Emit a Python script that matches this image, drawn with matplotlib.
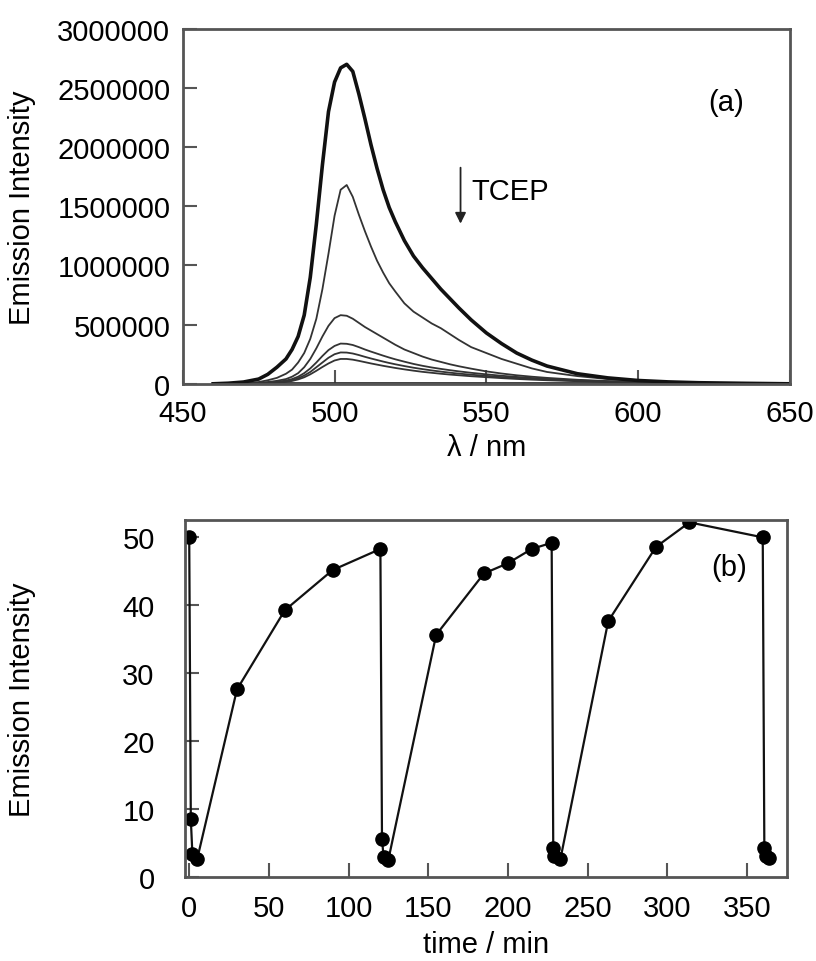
import numpy as np
import matplotlib.pyplot as plt
from matplotlib.ticker import FormatStrFormatter

plt.rcParams['font.family'] = ['Liberation Sans', 'DejaVu Sans']

# (a) emission spectra, intensity in units of 1e6
wl = [460, 465, 470, 475, 478, 481, 484, 486, 488, 490, 492, 494, 496, 498, 500, 502, 504,
      506, 508, 510, 512, 514, 516, 518, 520, 523, 526, 529, 532, 535, 538, 541, 545, 550,
      555, 560, 565, 570, 580, 590, 600, 610, 620, 635, 650]
spec0 = [0.0, 0.005, 0.015, 0.04, 0.08, 0.14, 0.21, 0.29, 0.40, 0.58, 0.90, 1.35, 1.85, 2.30,
         2.55, 2.67, 2.70, 2.64, 2.45, 2.24, 2.02, 1.82, 1.64, 1.49, 1.37, 1.21, 1.08, 0.98,
         0.89, 0.80, 0.72, 0.64, 0.54, 0.43, 0.34, 0.26, 0.20, 0.15, 0.085, 0.05, 0.028,
         0.016, 0.009, 0.004, 0.0]
spec1 = [0, 0.002, 0.005, 0.015, 0.03, 0.05, 0.085, 0.12, 0.18, 0.26, 0.38, 0.55, 0.80, 1.10,
         1.42, 1.64, 1.68, 1.58, 1.43, 1.29, 1.16, 1.04, 0.94, 0.85, 0.78, 0.68, 0.61, 0.56,
         0.51, 0.47, 0.42, 0.37, 0.31, 0.26, 0.21, 0.17, 0.13, 0.10, 0.065, 0.04, 0.025,
         0.015, 0.009, 0.004, 0]
spec2 = [0, 0.001, 0.003, 0.008, 0.015, 0.025, 0.04, 0.06, 0.09, 0.14, 0.21, 0.30, 0.40, 0.49,
         0.555, 0.58, 0.575, 0.55, 0.515, 0.48, 0.45, 0.42, 0.39, 0.36, 0.33, 0.29, 0.26, 0.23,
         0.205, 0.185, 0.165, 0.148, 0.128, 0.105, 0.087, 0.072, 0.06, 0.05, 0.034, 0.023,
         0.015, 0.01, 0.006, 0.003, 0]
spec3 = [0, 0.001, 0.002, 0.005, 0.01, 0.017, 0.027, 0.04, 0.06, 0.09, 0.13, 0.18, 0.235,
         0.285, 0.32, 0.34, 0.338, 0.328, 0.31, 0.29, 0.272, 0.255, 0.238, 0.222, 0.207, 0.187,
         0.168, 0.152, 0.138, 0.126, 0.115, 0.105, 0.093, 0.08, 0.068, 0.058, 0.049, 0.041,
         0.029, 0.02, 0.013, 0.009, 0.006, 0.003, 0]
spec4 = [0, 0.001, 0.002, 0.004, 0.008, 0.013, 0.021, 0.031, 0.047, 0.07, 0.10, 0.14, 0.18,
         0.22, 0.25, 0.265, 0.264, 0.256, 0.243, 0.228, 0.214, 0.201, 0.188, 0.176, 0.165,
         0.15, 0.136, 0.124, 0.113, 0.103, 0.094, 0.086, 0.077, 0.067, 0.057, 0.049, 0.042,
         0.036, 0.026, 0.018, 0.012, 0.008, 0.005, 0.003, 0]
spec5 = [0, 0.001, 0.002, 0.003, 0.006, 0.01, 0.016, 0.024, 0.037, 0.055, 0.08, 0.11, 0.142,
         0.172, 0.197, 0.21, 0.21, 0.204, 0.194, 0.183, 0.172, 0.162, 0.152, 0.143, 0.134,
         0.122, 0.111, 0.101, 0.093, 0.085, 0.078, 0.072, 0.064, 0.056, 0.048, 0.041, 0.035,
         0.03, 0.022, 0.015, 0.01, 0.007, 0.005, 0.003, 0]
spec6 = [0.003] * len(wl)
thin_specs = [spec1, spec2, spec3, spec4, spec5, spec6]

# (b) emission intensity vs time
time = [0, 1, 2, 5, 30, 60, 90, 120, 121, 122, 125, 155, 185, 200, 215, 227.5, 228.5, 229,
        233, 263, 293, 314, 360, 361, 362, 364]
inten = [50.0, 8.6, 3.4, 2.7, 27.6, 39.2, 45.1, 48.2, 5.7, 3.0, 2.6, 35.6, 44.6, 46.1, 48.2,
         49.1, 4.4, 3.1, 2.7, 37.6, 48.5, 52.1, 49.9, 4.4, 3.2, 2.8]

fig = plt.figure(figsize=(8.16, 9.62), dpi=100)
ax1 = fig.add_axes([0.224, 0.600, 0.744, 0.369])
ax2 = fig.add_axes([0.227, 0.0868, 0.738, 0.372])

fs = 21
frame_col = '#555555'

wl_arr = np.array(wl)
for s in thin_specs:
    ax1.plot(wl_arr, np.array(s) * 1e6, color='#333333', lw=1.3)
ax1.plot(wl_arr, np.array(spec0) * 1e6, color='#111111', lw=2.6)

ax1.set_xlim(450, 650)
ax1.set_ylim(0, 3000000)
ax1.set_xticks([450, 500, 550, 600, 650])
ax1.set_yticks(np.arange(0, 3000001, 500000))
ax1.yaxis.set_major_formatter(FormatStrFormatter('%d'))
ax1.set_xlabel('λ / nm', fontsize=fs, labelpad=4)
ax1.set_ylabel('Emission Intensity', fontsize=fs)
ax1.yaxis.set_label_coords(-0.242, 0.5)
ax1.text(629, 2380000, '(a)', fontsize=fs, ha='center', va='center')
ax1.annotate('', xy=(541.5, 1330000), xytext=(541.5, 1850000),
             arrowprops=dict(arrowstyle='-|>', color='#222222', lw=1.3, mutation_scale=16))
ax1.text(545, 1630000, 'TCEP', fontsize=fs, ha='left', va='center')

ax2.plot(time, inten, color='#111111', lw=1.6, marker='o', ms=9.5, mfc='black', mec='black')
ax2.set_xlim(-2.5, 375.5)
ax2.set_ylim(0, 52.5)
ax2.set_xticks([0, 50, 100, 150, 200, 250, 300, 350])
ax2.set_yticks([0, 10, 20, 30, 40, 50])
ax2.set_xlabel('time / min', fontsize=fs, labelpad=6)
ax2.set_ylabel('Emission Intensity', fontsize=fs)
ax2.yaxis.set_label_coords(-0.247, 0.5)
ax2.text(339, 45.5, '(b)', fontsize=fs, ha='center', va='center')

for ax in (ax1, ax2):
    for sp in ax.spines.values():
        sp.set_color(frame_col)
        sp.set_linewidth(2)
    ax.tick_params(direction='in', length=10, width=1.5, color=frame_col,
                   labelsize=fs, top=False, right=False)
ax1.tick_params(axis='x', pad=11)
ax1.tick_params(axis='y', pad=9)
ax2.tick_params(axis='x', pad=12)
ax2.tick_params(axis='y', pad=22)

fig.savefig('out.png', dpi=100)
